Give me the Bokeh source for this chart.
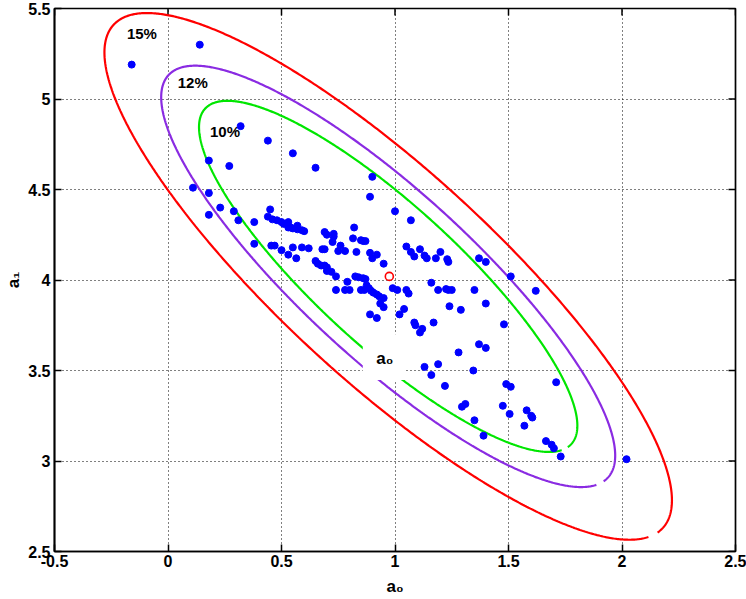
import numpy as np
from bokeh.plotting import figure
from bokeh.models import (FixedTicker, Range1d, Label, BoxAnnotation, CustomJSTickFormatter)
from bokeh.embed import file_html
from bokeh.resources import INLINE
from bokeh.core.properties import value

# ---------------- data ----------------
a0_samples = [
    -0.16, 0.14, 0.32, 0.44, 0.55, 0.65, 0.18, 0.27, 0.11, 0.18, 0.18, 0.23, 0.29, 0.31, 0.38, 0.38, 0.90, 0.89, 1.00, 1.07,
    0.45, 0.44, 0.46, 0.48, 0.50, 0.51, 0.53, 0.53, 0.54, 0.55, 0.57, 0.57, 0.59, 0.60,
    0.455, 0.47, 0.50, 0.53, 0.55, 0.565, 0.59, 0.62, 0.68, 0.69,
    0.69, 0.70, 0.73, 0.73, 0.725, 0.76, 0.75, 0.78, 0.82, 0.815, 0.85, 0.86, 0.87, 0.83, 0.89, 0.92, 0.90, 0.95,
    0.65, 0.66, 0.675, 0.69, 0.70, 0.70, 0.72, 0.74, 0.79, 0.825, 0.84, 0.86, 0.87,
    0.74, 0.78, 0.80, 0.85, 0.865,
    0.875, 0.885, 0.895, 0.905, 0.92, 0.93, 0.95, 0.935, 0.95, 0.89, 0.92,
    0.99, 1.01, 1.05, 1.06, 1.02, 1.04, 1.085, 1.09, 1.17, 1.12, 1.11,
    1.05, 1.07, 1.085, 1.11, 1.13, 1.14, 1.18, 1.20, 1.23, 1.235, 1.37, 1.40,
    1.16, 1.19, 1.225, 1.235, 1.25, 1.35, 1.40, 1.24, 1.29,
    1.37, 1.40, 1.28, 1.51, 1.62, 1.48,
    1.13, 1.19, 1.16, 1.345, 1.22, 1.49, 1.51, 1.71,
    1.295, 1.31, 1.35, 1.475, 1.505, 1.58, 1.60, 1.605, 1.57, 1.39, 1.665, 1.69, 1.70, 1.73, 2.02,
]
a1_samples = [
    5.19, 5.30, 4.85, 4.77, 4.70, 4.62, 4.66, 4.63, 4.51, 4.48, 4.36, 4.40, 4.38, 4.33, 4.32, 4.20, 4.57, 4.46, 4.38, 4.33,
    4.39, 4.35, 4.335, 4.33, 4.32, 4.31, 4.32, 4.29, 4.29, 4.285, 4.30, 4.28, 4.275, 4.27,
    4.19, 4.19, 4.165, 4.14, 4.18, 4.12, 4.18, 4.175, 4.17, 4.17,
    4.265, 4.25, 4.255, 4.24, 4.21, 4.19, 4.16, 4.16, 4.29, 4.23, 4.22, 4.215, 4.215, 4.155, 4.15, 4.14, 4.12, 4.09,
    4.105, 4.09, 4.08, 4.08, 4.07, 4.05, 4.045, 4.02, 3.99, 4.02, 4.015, 4.01, 4.005,
    3.945, 3.945, 3.945, 3.945, 3.945,
    3.97, 3.955, 3.94, 3.93, 3.92, 3.91, 3.90, 3.87, 3.85, 3.81, 3.79,
    3.955, 3.945, 3.945, 3.925, 3.81, 3.84, 3.765, 3.75, 3.765, 3.73, 3.71,
    4.185, 4.155, 4.13, 4.17, 4.135, 4.12, 4.12, 4.155, 4.115, 4.10, 4.12, 4.10,
    3.985, 3.945, 3.95, 3.945, 3.945, 3.945, 3.87, 3.855, 3.835,
    3.645, 3.625, 3.60, 4.02, 3.94, 3.755,
    3.52, 3.535, 3.475, 3.50, 3.415, 3.425, 3.41, 3.435,
    3.30, 3.315, 3.225, 3.305, 3.26, 3.28, 3.25, 3.24, 3.195, 3.14, 3.11, 3.09, 3.07, 3.025, 3.01,
]

# estimated parameter pair (red circle)
estimate_a0 = [0.975]
estimate_a1 = [4.02]

# confidence contours (ellipses)
contour_levels = [10, 12, 15]
contour_labels = ["10%", "12%", "15%"]
contour_colors = ["#00e600", "#8a2be2", "#ff0000"]
contour_label_a0 = [0.251, 0.109, -0.115]
contour_label_a1 = [4.822, 5.089, 5.36]
contour_center = [0.97, 4.02]
contour_shape_15 = [[1.5625, -1.546], [-1.546, 2.117]]   # extent of the 15% contour
contour_gap = [-0.41, -0.32]                               # unclosed segment (parameter angle)

x_ticks = [-0.5, 0, 0.5, 1, 1.5, 2, 2.5]
y_ticks = [2.5, 3, 3.5, 4, 4.5, 5, 5.5]
x_lim = [-0.5, 2.5]
y_lim = [2.5, 5.5]
x_title = "a\u2080"
y_title = "a\u2081"

# label "a0" placed on the contours with a white box
inline_label = "a\u2080"
inline_label_pos = [0.955, 3.565]
inline_box = [0.858, 1.045, 3.447, 3.70]   # left, right, bottom, top

FONT = "Liberation Sans"
W, H = 746, 599
BORDER_L, BORDER_R, BORDER_T, BORDER_B = 54, 11, 8, 48
TICK_PX = 7

# ---------------- figure ----------------
p = figure(width=W, height=H, output_backend="svg", toolbar_location=None,
           x_range=Range1d(*x_lim), y_range=Range1d(*y_lim),
           min_border_left=BORDER_L, min_border_right=BORDER_R,
           min_border_top=BORDER_T, min_border_bottom=BORDER_B)
p.background_fill_color = "white"
p.border_fill_color = "white"
p.outline_line_color = "black"
p.outline_line_width = 1.7

fmt = CustomJSTickFormatter(code="return String(tick);")
p.xaxis.ticker = FixedTicker(ticks=x_ticks)
p.yaxis.ticker = FixedTicker(ticks=y_ticks)
p.xaxis.formatter = fmt
p.yaxis.formatter = fmt
for ax in (p.xaxis[0], p.yaxis[0]):
    ax.major_tick_in = TICK_PX
    ax.major_tick_out = 0
    ax.minor_tick_line_color = None
    ax.major_tick_line_color = "black"
    ax.major_tick_line_width = 1.5
    ax.axis_line_color = "black"
    ax.axis_line_width = 1.7
    ax.major_label_text_font = FONT
    ax.major_label_text_font_style = "bold"
    ax.major_label_text_font_size = "16px"
    ax.major_label_text_color = "black"
    ax.axis_label_text_font = FONT
    ax.axis_label_text_font_style = "bold"
    ax.axis_label_text_font_size = "17px"
    ax.axis_label_text_color = "black"
p.xaxis.axis_label = x_title
p.yaxis.axis_label = y_title
p.xaxis.major_label_standoff = 3
p.xaxis.axis_label_standoff = 7
p.yaxis.major_label_standoff = 4
p.yaxis.axis_label_standoff = 2

p.xgrid.ticker = FixedTicker(ticks=x_ticks)
p.ygrid.ticker = FixedTicker(ticks=y_ticks)
p.grid.grid_line_color = "black"
p.grid.grid_line_dash = "1 3"
p.grid.grid_line_width = 1

frame_w = W - BORDER_L - BORDER_R
frame_h = H - BORDER_T - BORDER_B
x_per_px = (x_lim[1] - x_lim[0]) / frame_w
y_per_px = (y_lim[1] - y_lim[0]) / frame_h

# inward ticks on the top and right edges of the box
dx = TICK_PX * x_per_px
dy = TICK_PX * y_per_px
p.segment(x0=[x_lim[1]] * len(y_ticks), y0=y_ticks, x1=[x_lim[1] - dx] * len(y_ticks), y1=y_ticks,
          line_color="black", line_width=1.5)
p.segment(x0=x_ticks, y0=[y_lim[1]] * len(x_ticks), x1=x_ticks, y1=[y_lim[1] - dy] * len(x_ticks),
          line_color="black", line_width=1.5)

# contours
L = np.linalg.cholesky(np.array(contour_shape_15))
t = np.linspace(contour_gap[1], contour_gap[0] + 2 * np.pi, 800)
unit = np.vstack([np.cos(t), np.sin(t)])
for lev, col in zip(contour_levels, contour_colors):
    s = lev / contour_levels[-1]
    xy = s * (L @ unit)
    p.line(contour_center[0] + xy[0], contour_center[1] + xy[1], line_color=col, line_width=2.2)

p.scatter(a0_samples, a1_samples, marker="circle", size=7, fill_color="#0000ff", line_color="#0000ff")
p.scatter(estimate_a0, estimate_a1, marker="circle", size=8, fill_color=None, line_color="#ff0000", line_width=1.6)

p.text(contour_label_a0, contour_label_a1, text=contour_labels, text_font=value(FONT),
       text_font_style="bold", text_font_size="15px", text_align="center", text_baseline="middle",
       text_color="black")

box = BoxAnnotation(left=inline_box[0], right=inline_box[1], bottom=inline_box[2], top=inline_box[3],
                    fill_color="white", fill_alpha=1.0, line_color=None)
p.add_layout(box)
p.add_layout(Label(x=inline_label_pos[0], y=inline_label_pos[1], text=inline_label, text_font=FONT,
                   text_font_style="bold", text_font_size="17px", text_align="center",
                   text_baseline="middle", text_color="black"))

open("out.html", "w").write(file_html(p, INLINE))
